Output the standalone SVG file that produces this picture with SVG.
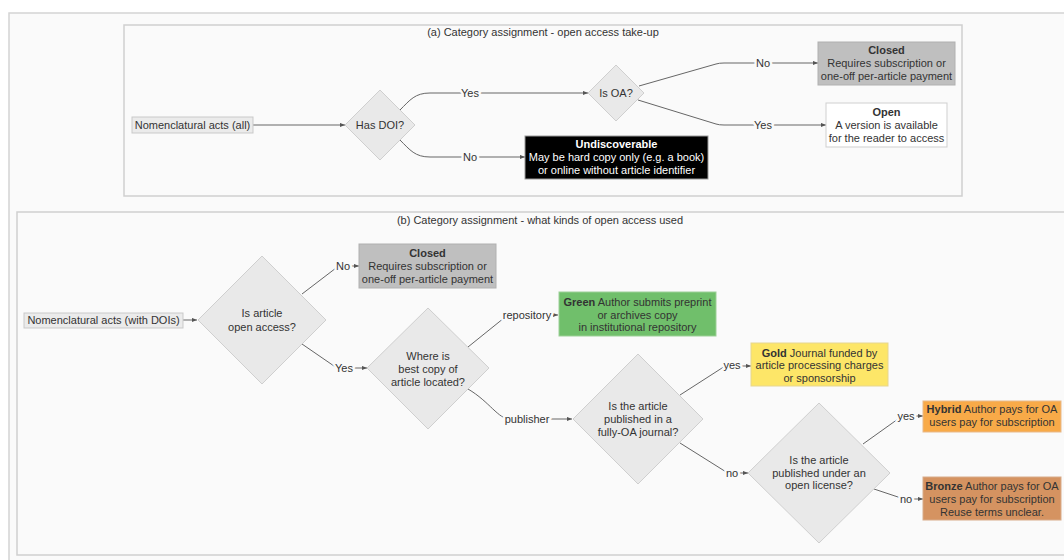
<svg xmlns="http://www.w3.org/2000/svg" width="1064" height="560" viewBox="0 0 1064 560">
<defs>
<style>
text{font-family:"Liberation Sans",Arial,sans-serif;font-size:11px;fill:#333;text-anchor:middle}
.b{font-weight:bold}
.w{fill:#fff}
.lbl{stroke:#fafafa;stroke-width:5;paint-order:stroke;stroke-linejoin:round}
.panel{fill:#fafafa;stroke:#cfcfcf;stroke-width:1.5}
.start{fill:#ebebeb;stroke:#c9c9c9}
.dia{fill:#e9e9e9;stroke:#cfcfcf}
.con path{fill:none;stroke:#666;stroke-width:1;marker-end:url(#ah)}
.con path.nm{marker-end:none}
</style>
<marker id="ah" viewBox="0 0 6 6" refX="6" refY="3" markerWidth="5" markerHeight="5" orient="auto" markerUnits="userSpaceOnUse">
<path d="M0,0.5 L6,3 L0,5.5 z" fill="#555"/>
</marker>
</defs>
<rect x="0" y="0" width="1064" height="560" fill="#fff"/>
<rect x="9" y="13" width="1080" height="570" fill="#fafafa" stroke="#d4d4d4" stroke-width="1.5"/>
<rect class="panel" x="124" y="25" width="838" height="171"/>
<rect class="panel" x="17" y="212" width="1070" height="343"/>
<text x="543" y="36">(a) Category assignment - open access take-up</text>
<text x="540" y="224">(b) Category assignment - what kinds of open access used</text>

<g id="connectors" class="con">
<path d="M253,125 L345,125"/>
<path d="M400,110 C410,100 415,93 430,93 L588,93"/>
<path d="M400,140 C410,150 415,157 430,157 L525,157"/>
<path d="M639,86 L716,64 Q719,63 724,63 L818,63"/>
<path d="M638,100 L716,124 Q719,125 724,125 L826,125"/>
<path d="M183,320 L197,320"/>
<path d="M302,294 L336,268 Q338,266 342,266 L359,266"/>
<path d="M302,344 L334,366 Q337,368 342,368 L367,368"/>
<path d="M468,347 L504,318 Q507,315 512,315 L558,315"/>
<path d="M468,389 C490,402 498,419 510,419 L572,419"/>
<path d="M680,395 L722,368 Q724,366 728,366 L751,366"/>
<path d="M680,443 L723,470 Q726,473 730,473 L748,473"/>
<path d="M863,444 L898,419 Q901,416 905,416 L923,416"/>
<path d="M874,489 L898,497 Q901,499 905,499 L923,499"/>
<text class="lbl" x="470" y="97">Yes</text>
<text class="lbl" x="470" y="161">No</text>
<text class="lbl" x="763" y="67">No</text>
<text class="lbl" x="763" y="129">Yes</text>
<text class="lbl" x="343" y="270">No</text>
<text class="lbl" x="344" y="372">Yes</text>
<text class="lbl" x="527" y="319">repository</text>
<text class="lbl" x="527" y="423">publisher</text>
<text class="lbl" x="732" y="369">yes</text>
<text class="lbl" x="732" y="477">no</text>
<text class="lbl" x="906" y="420">yes</text>
<text class="lbl" x="906" y="503">no</text>
</g>

<g id="a-start">
<rect class="start" x="132" y="117" width="121" height="16"/>
<text x="192.5" y="129">Nomenclatural acts (all)</text>
</g>
<g id="a-hasdoi">
<polygon class="dia" points="380,90 415,125 380,160 345,125"/>
<text x="380" y="129">Has DOI?</text>
</g>
<g id="a-isoa">
<polygon class="dia" points="616,65 644,93 616,121 588,93"/>
<text x="616" y="97">Is OA?</text>
</g>
<g id="a-closed">
<rect x="818" y="42" width="137" height="43" fill="#bfbfbf" stroke="#b0b0b0"/>
<text class="b" x="886.5" y="54">Closed</text>
<text x="886.5" y="67">Requires subscription or</text>
<text x="886.5" y="80">one-off per-article payment</text>
</g>
<g id="a-open">
<rect x="826" y="103" width="121" height="44" fill="#fff" stroke="#cfcfcf"/>
<text class="b" x="886.5" y="116">Open</text>
<text x="886.5" y="129">A version is available</text>
<text x="886.5" y="142">for the reader to access</text>
</g>
<g id="a-undisc">
<rect x="525" y="136" width="183" height="43" fill="#000" stroke="#999"/>
<text class="b w" x="616.5" y="148">Undiscoverable</text>
<text class="w" x="616.5" y="161">May be hard copy only (e.g. a book)</text>
<text class="w" x="616.5" y="174">or online without article identifier</text>
</g>

<g id="b-start">
<rect class="start" x="24" y="313" width="159" height="15"/>
<text x="103.5" y="324">Nomenclatural acts (with DOIs)</text>
</g>
<g id="b-isoa">
<polygon class="dia" points="262,256 326,320 262,384 198,320"/>
<text x="262" y="317">Is article</text>
<text x="262" y="331">open access?</text>
</g>
<g id="b-closed">
<rect x="359" y="244" width="137" height="44" fill="#bfbfbf" stroke="#b0b0b0"/>
<text class="b" x="427.5" y="257">Closed</text>
<text x="427.5" y="270">Requires subscription or</text>
<text x="427.5" y="283">one-off per-article payment</text>
</g>
<g id="b-where">
<polygon class="dia" points="428,308 489,368 428,429 367,368"/>
<text x="428" y="360">Where is</text>
<text x="428" y="373">best copy of</text>
<text x="428" y="386">article located?</text>
</g>
<g id="b-green">
<rect x="559" y="292" width="157" height="44" fill="#70bf6b" stroke="#9ccf97"/>
<text x="637.5" y="306"><tspan class="b">Green</tspan> Author submits preprint</text>
<text x="637.5" y="319">or archives copy</text>
<text x="637.5" y="331">in institutional repository</text>
</g>
<g id="b-fullyoa">
<polygon class="dia" points="638,354 703,419 638,484 573,419"/>
<text x="638" y="410">Is the article</text>
<text x="638" y="423">published in a</text>
<text x="638" y="436">fully-OA journal?</text>
</g>
<g id="b-gold">
<rect x="751" y="343" width="137" height="43" fill="#fde668" stroke="#e6d690"/>
<text x="819.5" y="357"><tspan class="b">Gold</tspan> Journal funded by</text>
<text x="819.5" y="369">article processing charges</text>
<text x="819.5" y="382">or sponsorship</text>
</g>
<g id="b-license">
<polygon class="dia" points="819,403 890,473 819,543 748,473"/>
<text x="819" y="464">Is the article</text>
<text x="819" y="477">published under an</text>
<text x="819" y="489">open license?</text>
</g>
<g id="b-hybrid">
<rect x="923" y="401" width="138" height="31" fill="#f8aa48" stroke="#e8b98a"/>
<text x="992" y="413"><tspan class="b">Hybrid</tspan> Author pays for OA</text>
<text x="992" y="426">users pay for subscription</text>
</g>
<g id="b-bronze">
<rect x="923" y="477" width="138" height="43" fill="#d59361" stroke="#d8ab8a"/>
<text x="992" y="490"><tspan class="b">Bronze</tspan> Author pays for OA</text>
<text x="992" y="503">users pay for subscription</text>
<text x="992" y="516">Reuse terms unclear.</text>
</g>
</svg>
